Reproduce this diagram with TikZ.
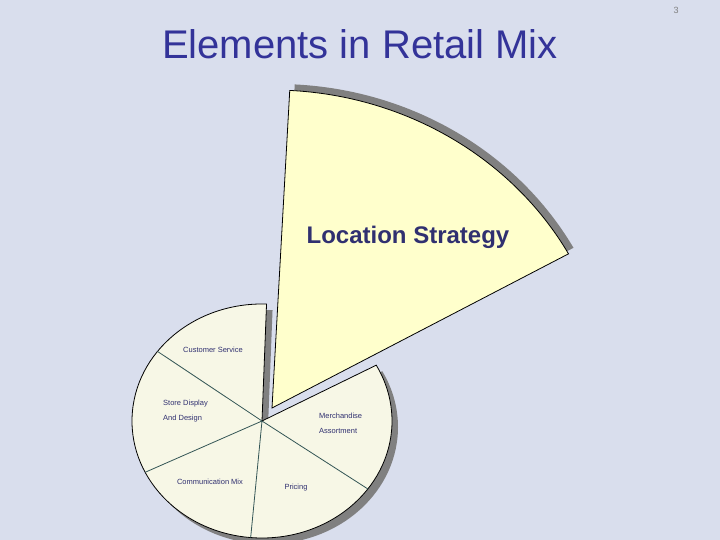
\documentclass[tikz,border=0pt]{standalone}
\usepackage{fontspec}
\setmainfont{Liberation Sans}

\definecolor{slidebg}{RGB}{217,222,237}
\definecolor{titleblue}{RGB}{51,51,153}
\definecolor{textnavy}{RGB}{48,48,112}
\definecolor{wedgeyellow}{RGB}{255,255,204}
\definecolor{pieivory}{RGB}{247,247,230}
\definecolor{divider}{RGB}{51,85,85}
\definecolor{shadowgray}{RGB}{128,128,128}

\tikzset{
  pieslice/.style={fill=pieivory, draw=black, line width=0.8pt},
  bigslice/.style={fill=wedgeyellow, draw=black, line width=0.8pt},
  smalllabel/.style={font=\fontsize{7.5}{15}\selectfont, text=textnavy, inner sep=0pt}
}

\begin{document}
\begin{tikzpicture}[x=1pt,y=1pt]
% Draw slide background
\fill[slidebg] (0,0) rectangle (720,540);
\useasboundingbox (0,0) rectangle (720,540);

% Draw title and page number
\node[font=\fontsize{40}{48}\selectfont, text=titleblue, anchor=base] (title) at (360,481) {Elements in Retail Mix};
\node[font=\fontsize{9}{10}\selectfont, text=gray] (pagenum) at (676,530) {3};

% Draw small pie (five slices) with its shadow
\coordinate (pc) at (262,119);
\fill[shadowgray] (268,113) -- ++(88:130pt and 117pt) arc[start angle=88, end angle=388.5, x radius=130pt, y radius=117pt] -- cycle;
\draw[pieslice] (pc) -- ++(88:130pt and 117pt) arc[start angle=88, end angle=388.5, x radius=130pt, y radius=117pt] -- cycle;

% Draw slice dividers
\foreach \a in {143.5,206,265,324.5}
  \draw[divider, line width=0.8pt] (pc) -- ++(\a:130pt and 117pt);

% Draw exploded slice with its shadow
\coordinate (tip) at (272,132);
\fill[shadowgray] (277,138) -- ++(29:339pt and 318pt) arc[start angle=29, end angle=87, x radius=339pt, y radius=318pt] -- cycle;
\draw[bigslice] (tip) -- ++(29:339pt and 318pt) arc[start angle=29, end angle=87, x radius=339pt, y radius=318pt] -- cycle;

% Add slice labels
\node[font=\bfseries\fontsize{24}{28}\selectfont, text=textnavy, anchor=base] (location) at (408,296) {Location Strategy};
\node[smalllabel] (custservice) at (213,190) {Customer Service};
\node[smalllabel, align=left, anchor=west] (storedisplay) at (163,128.5) {Store Display\\And Design};
\node[smalllabel, align=left, anchor=west] (merchandise) at (319,116.5) {Merchandise\\Assortment};
\node[smalllabel] (commmix) at (210,58) {Communication Mix};
\node[smalllabel] (pricing) at (296,52) {Pricing};

\end{tikzpicture}
\end{document}
